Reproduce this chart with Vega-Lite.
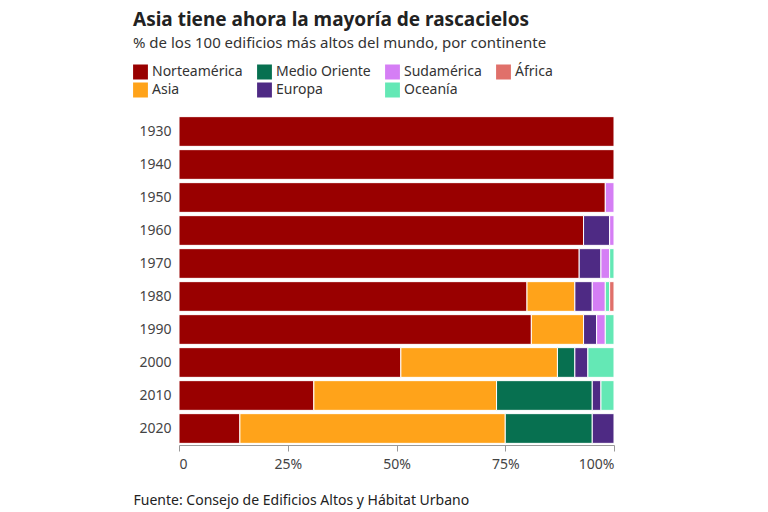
{
  "$schema": "https://vega.github.io/schema/vega-lite/v6.json",
  "autosize": "none",
  "width": 435,
  "height": 330,
  "padding": {"left": 179, "top": 115, "right": 154, "bottom": 67},
  "background": "white",
  "config": {"font": "Noto Sans", "view": {"stroke": null}},
  "title": {
    "text": "Asia tiene ahora la mayoría de rascacielos",
    "subtitle": "% de los 100 edificios más altos del mundo, por continente",
    "anchor": "start", "dx": 0, "offset": 13,
    "fontSize": 19, "fontWeight": "bold", "color": "#222222",
    "subtitleFontSize": 15, "subtitleColor": "#333333", "subtitlePadding": 6
  },
  "data": {"values": [
    {"year": "1930", "c": "Norteamérica", "v": 100},
    {"year": "1940", "c": "Norteamérica", "v": 100},
    {"year": "1950", "c": "Norteamérica", "v": 98},
    {"year": "1950", "c": "Sudamérica", "v": 2},
    {"year": "1960", "c": "Norteamérica", "v": 93},
    {"year": "1960", "c": "Europa", "v": 6},
    {"year": "1960", "c": "Sudamérica", "v": 1},
    {"year": "1970", "c": "Norteamérica", "v": 92},
    {"year": "1970", "c": "Europa", "v": 5},
    {"year": "1970", "c": "Sudamérica", "v": 2},
    {"year": "1970", "c": "Oceanía", "v": 1},
    {"year": "1980", "c": "Norteamérica", "v": 80},
    {"year": "1980", "c": "Asia", "v": 11},
    {"year": "1980", "c": "Europa", "v": 4},
    {"year": "1980", "c": "Sudamérica", "v": 3},
    {"year": "1980", "c": "Oceanía", "v": 1},
    {"year": "1980", "c": "África", "v": 1},
    {"year": "1990", "c": "Norteamérica", "v": 81},
    {"year": "1990", "c": "Asia", "v": 12},
    {"year": "1990", "c": "Europa", "v": 3},
    {"year": "1990", "c": "Sudamérica", "v": 2},
    {"year": "1990", "c": "Oceanía", "v": 2},
    {"year": "2000", "c": "Norteamérica", "v": 51},
    {"year": "2000", "c": "Asia", "v": 36},
    {"year": "2000", "c": "Medio Oriente", "v": 4},
    {"year": "2000", "c": "Europa", "v": 3},
    {"year": "2000", "c": "Oceanía", "v": 6},
    {"year": "2010", "c": "Norteamérica", "v": 31},
    {"year": "2010", "c": "Asia", "v": 42},
    {"year": "2010", "c": "Medio Oriente", "v": 22},
    {"year": "2010", "c": "Europa", "v": 2},
    {"year": "2010", "c": "Oceanía", "v": 3},
    {"year": "2020", "c": "Norteamérica", "v": 14},
    {"year": "2020", "c": "Asia", "v": 61},
    {"year": "2020", "c": "Medio Oriente", "v": 20},
    {"year": "2020", "c": "Europa", "v": 5}
  ]},
  "transform": [
    {"calculate": "indexof(['Norteamérica','Asia','Medio Oriente','Europa','Sudamérica','Oceanía','África'], datum.c)", "as": "ord"}
  ],
  "mark": {"type": "bar", "stroke": "white", "strokeWidth": 1},
  "encoding": {
    "y": {"field": "year", "type": "ordinal", "title": null,
      "scale": {"paddingInner": 0.1, "paddingOuter": 0.05},
      "axis": {"ticks": false, "domain": false, "labelFontSize": 14, "labelColor": "#444444", "labelPadding": 8}},
    "x": {"field": "v", "type": "quantitative", "stack": "zero",
      "scale": {"domain": [0, 100], "nice": false},
      "axis": {"values": [0, 25, 50, 75, 100], "labelExpr": "datum.value == 0 ? '0' : datum.value + '%'",
        "grid": false, "domainColor": "#999999", "tickColor": "#999999", "tickSize": 6,
        "labelFontSize": 14, "labelColor": "#444444", "labelPadding": 6,
        "title": "Fuente: Consejo de Edificios Altos y Hábitat Urbano",
        "titleAnchor": "start", "titleAlign": "left", "titleX": -46, "titleY": 48,
        "titleFontSize": 14, "titleFontWeight": "normal", "titleColor": "#222222"}},
    "order": {"field": "ord", "type": "quantitative"},
    "color": {"field": "c", "type": "nominal",
      "scale": {
        "domain": ["Norteamérica", "Medio Oriente", "Sudamérica", "África", "Asia", "Europa", "Oceanía"],
        "range": ["#990000", "#077050", "#D57EF5", "#E0706A", "#FFA31A", "#4E2A84", "#64E8B5"]},
      "legend": {"title": null, "orient": "none", "legendX": -46, "legendY": -51, "direction": "horizontal",
        "columns": 4, "symbolType": "square", "symbolSize": 220, "symbolStrokeWidth": 0, "symbolOpacity": 1,
        "labelFontSize": 14, "labelColor": "#333333", "columnPadding": 14, "rowPadding": 2, "clipHeight": 16,
        "labelLimit": 200, "symbolOffset": 0}}
  }
}
